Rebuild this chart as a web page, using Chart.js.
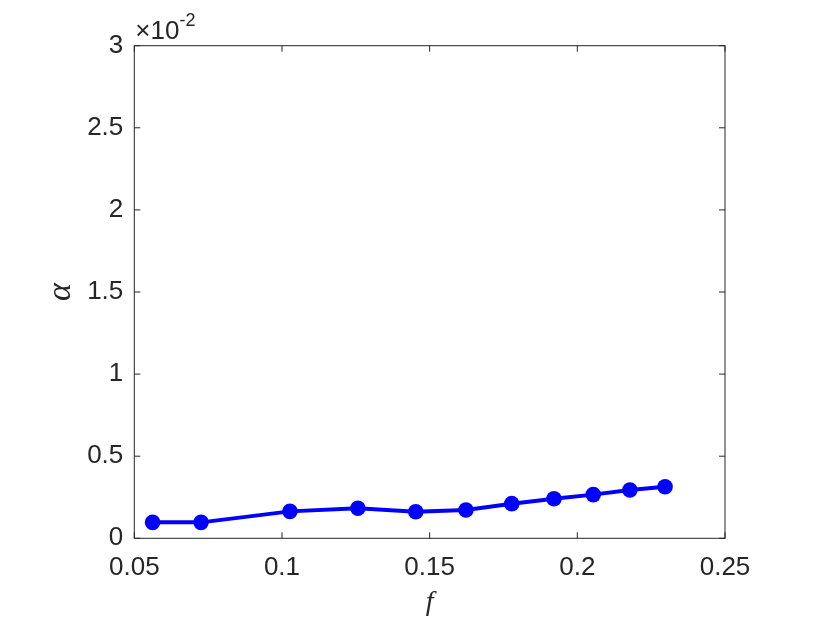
<!DOCTYPE html>
<html>
<head>
<meta charset="utf-8">
<script src="https://cdn.jsdelivr.net/npm/chart.js@4/dist/chart.umd.min.js"></script>
<style>
  html, body { margin: 0; padding: 0; background: #fff; }
  #wrap { width: 830px; height: 623px; }
</style>
</head>
<body>
<div id="wrap"><canvas id="alphaChart" width="830" height="623"></canvas></div>
<script>
// values (alpha in units of 1e-2)
const fValues = [0.0562, 0.0726, 0.1027, 0.1257, 0.1453, 0.1623, 0.1778, 0.1921, 0.2054, 0.2178, 0.2297];
const alphaValues = [0.097, 0.097, 0.164, 0.183, 0.162, 0.172, 0.211, 0.241, 0.266, 0.294, 0.314];
const xTicks = [0.05, 0.1, 0.15, 0.2, 0.25];
const xTickLabels = ['0.05', '0.1', '0.15', '0.2', '0.25'];
const yTicks = [0, 0.5, 1, 1.5, 2, 2.5, 3];
const yTickLabels = ['0', '0.5', '1', '1.5', '2', '2.5', '3'];

const axisColor = '#262626';
const tickFont = { family: 'Liberation Sans', size: 26 };

// MATLAB style box, inward ticks on all sides, exponent and axis labels
const matlabAxes = {
    id: 'matlabAxes',
    afterDraw(chart) {
        const ctx = chart.ctx;
        const a = chart.chartArea;
        const xs = chart.scales.x;
        const ys = chart.scales.y;
        const len = 6;
        ctx.save();
        ctx.strokeStyle = axisColor;
        ctx.lineWidth = 1;
        ctx.strokeRect(a.left, a.top, a.right - a.left, a.bottom - a.top);
        ctx.beginPath();
        xTicks.forEach(v => {
            const px = xs.getPixelForValue(v);
            ctx.moveTo(px, a.bottom); ctx.lineTo(px, a.bottom - len);
            ctx.moveTo(px, a.top); ctx.lineTo(px, a.top + len);
        });
        yTicks.forEach(v => {
            const py = ys.getPixelForValue(v);
            ctx.moveTo(a.left, py); ctx.lineTo(a.left + len, py);
            ctx.moveTo(a.right, py); ctx.lineTo(a.right - len, py);
        });
        ctx.stroke();

        ctx.fillStyle = axisColor;
        ctx.textBaseline = 'alphabetic';
        ctx.textAlign = 'left';
        ctx.font = '26px "Liberation Sans"';
        ctx.fillText('\u00d710', a.left + 1, a.top - 7);
        const w = ctx.measureText('\u00d710').width;
        ctx.font = '18px "Liberation Sans"';
        ctx.fillText('-2', a.left + 1 + w, a.top - 20);

        ctx.textAlign = 'center';
        ctx.textBaseline = 'middle';
        ctx.font = 'italic 28px "Liberation Serif"';
        ctx.fillText('f', (a.left + a.right) / 2, 603);
        ctx.font = 'italic 34px "Liberation Serif"';
        ctx.translate(61, (a.top + a.bottom) / 2);
        ctx.rotate(-Math.PI / 2);
        ctx.fillText('\u03b1', 0, 0);
        ctx.restore();
    }
};

new Chart(document.getElementById('alphaChart'), {
    type: 'line',
    data: {
        datasets: [{
            data: fValues.map((f, i) => ({ x: f, y: alphaValues[i] })),
            borderColor: '#0000ff',
            backgroundColor: '#0000ff',
            borderWidth: 4,
            pointRadius: 7.8,
            pointBorderWidth: 0,
            pointBackgroundColor: '#0000ff',
            tension: 0
        }]
    },
    options: {
        responsive: false,
        animation: false,
        layout: { padding: { left: 0, top: 45.7, right: 105, bottom: 0 } },
        plugins: { legend: { display: false }, tooltip: { enabled: false } },
        scales: {
            x: {
                type: 'linear',
                min: 0.05,
                max: 0.25,
                afterFit: scale => { scale.height = 623 - 538.3; },
                afterBuildTicks: scale => { scale.ticks = xTicks.map(v => ({ value: v })); },
                grid: { display: false, drawTicks: false },
                border: { display: false },
                ticks: {
                    color: axisColor,
                    font: tickFont,
                    padding: 14,
                    maxRotation: 0,
                    callback: (v) => xTickLabels[xTicks.indexOf(v)]
                }
            },
            y: {
                type: 'linear',
                min: 0,
                max: 3,
                afterFit: scale => { scale.width = 134.3; },
                afterBuildTicks: scale => { scale.ticks = yTicks.map(v => ({ value: v })); },
                grid: { display: false, drawTicks: false },
                border: { display: false },
                ticks: {
                    color: axisColor,
                    font: tickFont,
                    padding: 11,
                    callback: (v) => yTickLabels[yTicks.indexOf(v)]
                }
            }
        }
    },
    plugins: [matlabAxes]
});
</script>
</body>
</html>
